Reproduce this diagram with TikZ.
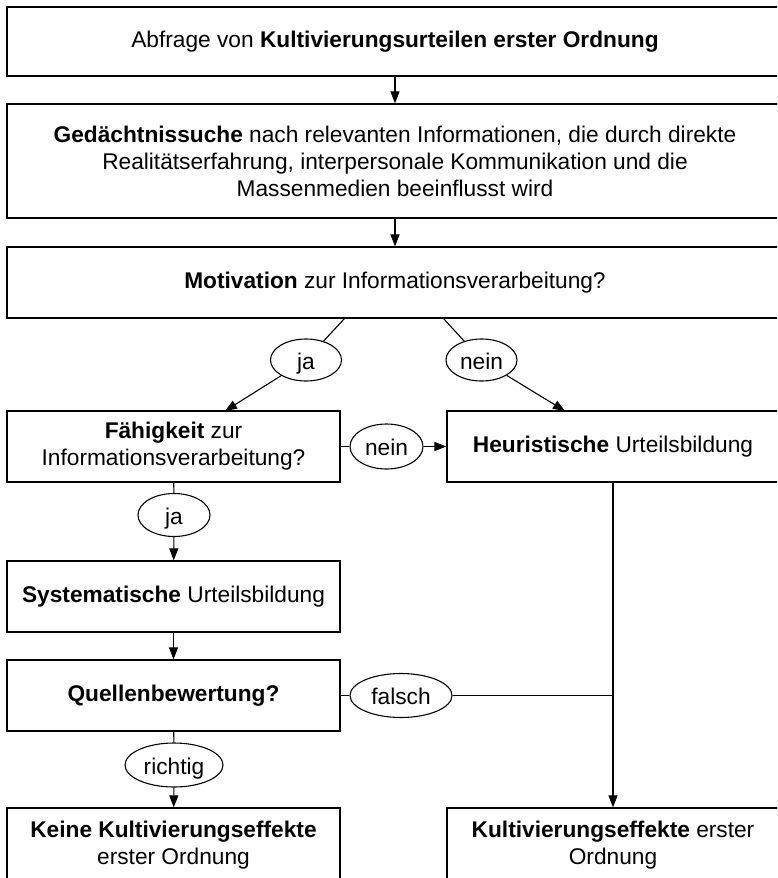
\documentclass[tikz,border=0pt]{standalone}
\usepackage{fontspec}
\setmainfont{Liberation Sans}
\usetikzlibrary{shapes.geometric,arrows.meta}
\begin{document}
\begin{tikzpicture}[x=1pt,y=-1pt,
  font=\fontsize{22.7}{27}\selectfont,
  box/.style={draw=black, line width=1.2pt, rectangle, align=center, inner sep=0pt},
  lbl/.style={draw=black, line width=1.1pt, ellipse, inner sep=0pt, text height=18pt, text depth=0pt},
  conn/.style={draw=black, line width=1.1pt},
  arr/.style={conn, -{Triangle[length=12pt,width=9pt]}}]
\clip (0,0) rectangle (777,878);
\fill[white] (0,0) rectangle (777,878);
% boxes
\node[box, minimum width=776, minimum height=69] (b1) at (395,41.5)
  {Abfrage von \textbf{Kultivierungsurteilen erster Ordnung}};
\node[box, minimum width=776, minimum height=114] (b2) at (395,161)
  {\textbf{Gedächtnissuche} nach relevanten Informationen, die durch direkte\\
   Realitätserfahrung, interpersonale Kommunikation und die\\
   Massenmedien beeinflusst wird};
\node[box, minimum width=776, minimum height=71] (b3) at (395,282.5)
  {\textbf{Motivation} zur Informationsverarbeitung?};
\node[box, minimum width=333, minimum height=71] (fae) at (173.5,446.5)
  {\textbf{Fähigkeit} zur\\Informationsverarbeitung?};
\node[box, minimum width=332, minimum height=71] (heur) at (613,446.5)
  {\textbf{Heuristische} Urteilsbildung};
\node[box, minimum width=333, minimum height=71] (sys) at (173.5,596.5)
  {\textbf{Systematische} Urteilsbildung};
\node[box, minimum width=333, minimum height=71] (quel) at (173.5,695.5)
  {\textbf{Quellenbewertung?}};
\node[box, minimum width=333, minimum height=74] (keine) at (173.5,845)
  {\textbf{Keine Kultivierungseffekte}\\erster Ordnung};
\node[box, minimum width=332, minimum height=74] (kult) at (613,845)
  {\textbf{Kultivierungseffekte} erster\\Ordnung};
% labels
\node[lbl, minimum width=71, minimum height=42] (ja1) at (306,360) {ja};
\node[lbl, minimum width=71, minimum height=42] (nein1) at (481.5,360) {nein};
\node[lbl, minimum width=73, minimum height=45] (nein2) at (386.5,446.5) {nein};
\node[lbl, minimum width=72, minimum height=43] (ja2) at (174,515) {ja};
\node[lbl, minimum width=102, minimum height=44] (falsch) at (401,695.5) {falsch};
\node[lbl, minimum width=98, minimum height=44] (richtig) at (174,765) {richtig};
% helper coordinates
\coordinate (m1) at (345,318);
\coordinate (m2) at (443,318);
\coordinate (f1) at (225,411);
\coordinate (h1) at (565,411);
\coordinate (jn) at (613,695.5);
% connectors
\draw[arr] (b1) -- (b2);
\draw[arr] (b2) -- (b3);
\draw[conn] (m1) -- (ja1);
\draw[arr] (ja1) -- (f1);
\draw[conn] (m2) -- (nein1);
\draw[arr] (nein1) -- (h1);
\draw[conn] (fae) -- (nein2);
\draw[arr] (nein2) -- (heur);
\draw[conn] (fae) -- (ja2);
\draw[arr] (ja2) -- (sys);
\draw[arr] (sys) -- (quel);
\draw[conn] (quel) -- (falsch);
\draw[conn] (falsch) -- (jn);
\draw[arr] (heur) -- (kult);
\draw[conn] (quel) -- (richtig);
\draw[arr] (richtig) -- (keine);
\end{tikzpicture}
\end{document}
